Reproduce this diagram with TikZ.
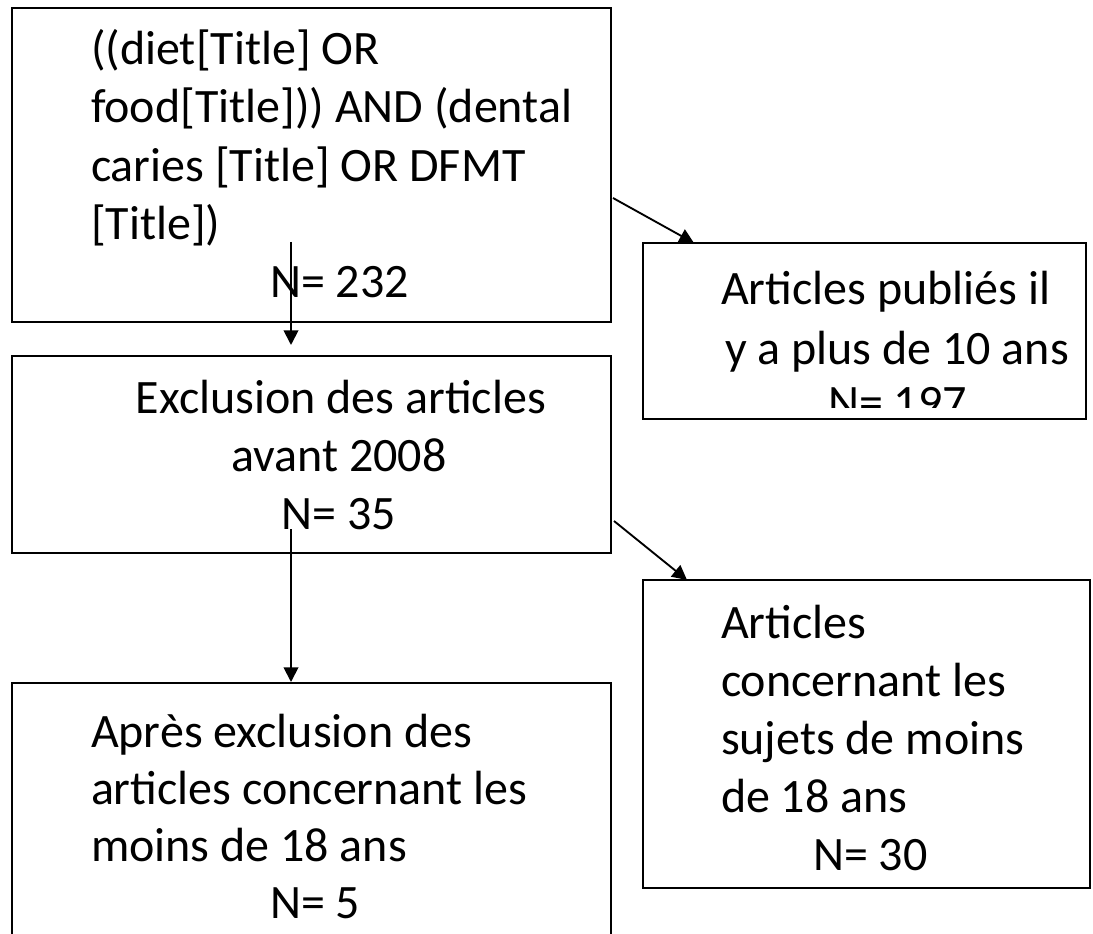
\documentclass[tikz,border=0pt]{standalone}
\usepackage{fontspec}
\setmainfont{Carlito}
\usetikzlibrary{arrows.meta,fit,calc}
\begin{document}
\begin{tikzpicture}[x=0.75pt,y=-0.75pt,
  flowbox/.style={draw=black, line width=1.5pt, inner sep=0pt, outer sep=0pt, rectangle},
  txt/.style={inner sep=0pt, outer sep=0pt, font=\fontsize{36pt}{43pt}\selectfont},
  arr/.style={line width=1.4pt, -{Triangle[length=11pt,width=11pt]}}]
\useasboundingbox (0,0) rectangle (1093,934);
\clip (0,0) rectangle (1093,934);
\fill[white] (0,0) rectangle (1093,934);
% boxes
\node[flowbox, fit={(12,8) (611,322)}] (b1) {};
\node[flowbox, fit={(643,243) (1086,419)}] (b2) {};
\node[flowbox, fit={(12,356) (611,553)}] (b3) {};
\node[flowbox, fit={(643,580) (1090,888)}] (b4) {};
\node[flowbox, fit={(12,683) (611,960)}] (b5) {};
% box 1 text
\node[txt, anchor=base west] (t1a) at (91,65) {((diet[Title] OR};
\node[txt, anchor=base west] (t1b) at (91,123) {food[Title])) AND (dental};
\node[txt, anchor=base west] (t1c) at (91,182) {caries [Title] OR DFMT};
\node[txt, anchor=base west] (t1d) at (91,240) {[Title])};
\node[txt, anchor=base west] (t1e) at (270,298) {N= 232};
% box 2 text (last line cut by the box)
\begin{scope}
\clip ($(b2.north west)+(0,0)$) rectangle ($(b2.south east)+(0,-11)$);
\node[txt, anchor=base west] (t2a) at (721,305) {Articles publiés il};
\node[txt, anchor=base west] (t2b) at (725,364) {y a plus de 10 ans};
\node[txt, anchor=base west] (t2c) at (828,418) {N= 197};
\end{scope}
% box 3 text
\node[txt, anchor=base] (t3a) at (341,413) {Exclusion des articles};
\node[txt, anchor=base] (t3b) at (339,471) {avant 2008};
\node[txt, anchor=base] (t3c) at (339,529) {N= 35};
% box 4 text
\node[txt, anchor=base west] (t4a) at (721,638) {Articles};
\node[txt, anchor=base west] (t4b) at (721,696) {concernant les};
\node[txt, anchor=base west] (t4c) at (721,754) {sujets de moins};
\node[txt, anchor=base west] (t4d) at (721,812) {de 18 ans};
\node[txt, anchor=base west] (t4e) at (813,870) {N= 30};
% box 5 text
\node[txt, anchor=base west] (t5a) at (91,747) {Après exclusion des};
\node[txt, anchor=base west] (t5b) at (91,804) {articles concernant les};
\node[txt, anchor=base west] (t5c) at (91,861) {moins de 18 ans};
\node[txt, anchor=base west] (t5d) at (270,918) {N= 5};
% connectors
\coordinate (a1s) at ($(b1.north east)+(2,190)$);
\coordinate (a1e) at ($(b2.north west)+(51,0)$);
\coordinate (v1s) at ($(b1.south west)+(279,-80)$);
\coordinate (v1e) at ($(b3.north west)+(279,-11)$);
\coordinate (a2s) at ($(b3.south east)+(3,-32)$);
\coordinate (a2e) at ($(b4.north west)+(44,0)$);
\coordinate (v2s) at ($(b3.south west)+(279,-24)$);
\coordinate (v2e) at ($(b5.north west)+(279,-1)$);
\draw[arr] (a1s) -- (a1e);
\draw[arr] (v1s) -- (v1e);
\draw[arr] (a2s) -- (a2e);
\draw[arr] (v2s) -- (v2e);
\end{tikzpicture}
\end{document}
